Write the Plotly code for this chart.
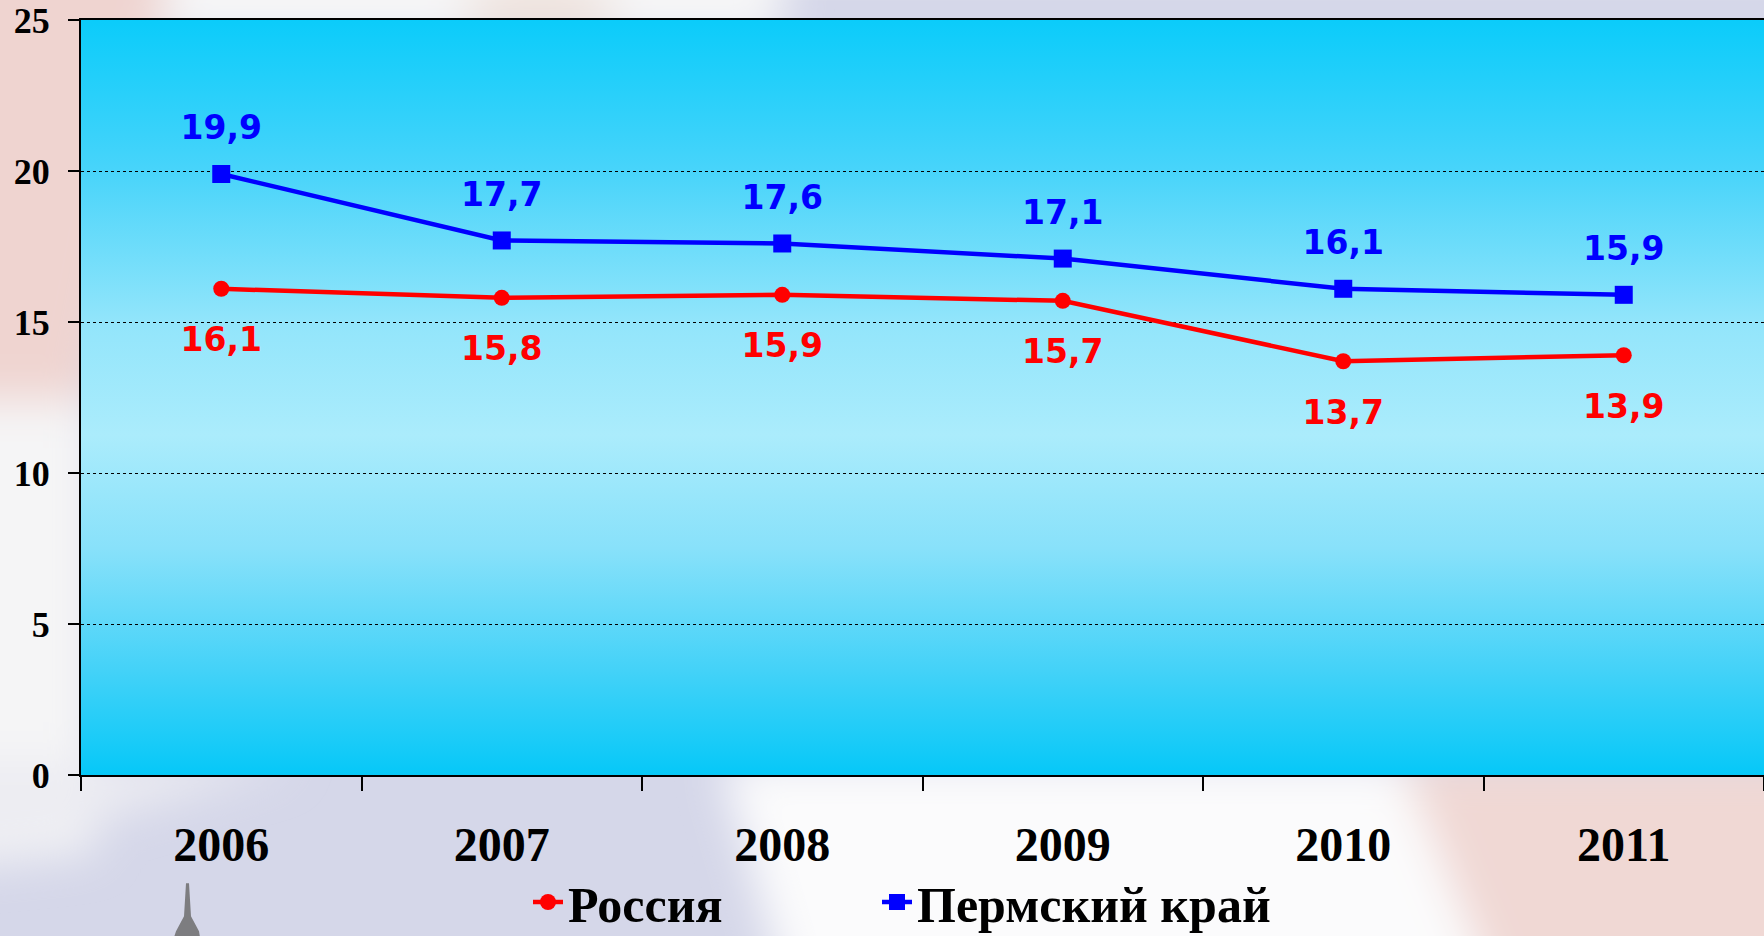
import base64

import plotly.graph_objects as go

years = ["2006", "2007", "2008", "2009", "2010", "2011"]
russia = [16.1, 15.8, 15.9, 15.7, 13.7, 13.9]
perm = [19.9, 17.7, 17.6, 17.1, 16.1, 15.9]
y_ticks = [0, 5, 10, 15, 20, 25]

# снимок окна слегка сжимает высоту, поэтому вертикальные размеры растянуты на SY
SY = 941 / 936
W, H = 1764, 941
ML, MR, MT, MB = 81, 0, round(20 * SY), H - round(774 * SY)
PW, PH = W - ML - MR, H - MT - MB

RED = "#ff0000"
BLUE = "#0000ff"


def svg_uri(svg: str) -> str:
    return "data:image/svg+xml;base64," + base64.b64encode(svg.encode("utf-8")).decode("ascii")


def fmt(v):
    return f"{v:.1f}".replace(".", ",")


def sy(v):
    return round(v * SY)


# фон слайда (размытый флаг) и башня внизу слева
page_svg = f"""<svg xmlns="http://www.w3.org/2000/svg" width="{W}" height="{H}" viewBox="0 0 {W} 936" preserveAspectRatio="none">
<defs><filter id="b" x="-20%" y="-20%" width="140%" height="140%"><feGaussianBlur stdDeviation="22"/></filter></defs>
<rect width="{W}" height="936" fill="#d5d7e9"/>
<g filter="url(#b)">
<polygon points="-200,-200 190,-200 160,30 90,400 -200,400" fill="#efd4d0"/>
<polygon points="190,-200 800,-200 780,40 160,40" fill="#f6f6f7"/>
<ellipse cx="540" cy="10" rx="80" ry="30" fill="#efe2dc"/>
<polygon points="-200,400 95,400 95,850 -200,880" fill="#f5f5f6"/>
<polygon points="-200,760 300,760 60,830 -200,860" fill="#ececf2"/>
<polygon points="720,760 1400,760 1500,1000 790,1000" fill="#fbfbfc"/>
<polygon points="1400,760 2000,760 2000,1000 1500,1000" fill="#f0d8d4"/>
</g>
<polygon points="186,882 189,882 191,915 199,930 200,936 174,936 176,930 184,915" fill="#7d7d80"/>
</svg>"""

# градиент области построения
plot_svg = """<svg xmlns="http://www.w3.org/2000/svg" width="100" height="100" viewBox="0 0 100 100" preserveAspectRatio="none">
<defs><linearGradient id="g" x1="0" y1="0" x2="0" y2="1">
<stop offset="0" stop-color="#0bccfa"/>
<stop offset="0.2" stop-color="#48d4fa"/>
<stop offset="0.4" stop-color="#92e5fb"/>
<stop offset="0.55" stop-color="#abecfc"/>
<stop offset="0.7" stop-color="#88e1fa"/>
<stop offset="0.86" stop-color="#44d2f8"/>
<stop offset="1" stop-color="#06c8f8"/>
</linearGradient></defs>
<rect width="100" height="100" fill="url(#g)"/>
</svg>"""

fig = go.Figure()

fig.add_trace(go.Scatter(
    x=years, y=russia, mode="lines+markers", name="Россия", legend="legend",
    line=dict(color=RED, width=4.5),
    marker=dict(symbol="circle", size=16, color=RED),
))
fig.add_trace(go.Scatter(
    x=years, y=perm, mode="lines+markers", name="Пермский край", legend="legend2",
    line=dict(color=BLUE, width=4.5),
    marker=dict(symbol="square", size=18, color=BLUE),
))

# подписи значений: невидимые крупные маркеры задают отступ текста от точки
label_font = dict(family="DejaVu Sans", size=33, weight="bold")
fig.add_trace(go.Scatter(
    x=years, y=perm, mode="markers+text", text=[fmt(v) for v in perm],
    textposition="top center", textfont=dict(label_font, color=BLUE),
    marker=dict(size=41, opacity=0), showlegend=False, hoverinfo="skip",
))
fig.add_trace(go.Scatter(
    x=years, y=russia, mode="markers+text", text=[fmt(v) for v in russia],
    textposition="bottom center", textfont=dict(label_font, color=RED),
    marker=dict(size=59, opacity=0), showlegend=False, hoverinfo="skip",
))

fig.add_layout_image(dict(
    source=svg_uri(page_svg), xref="paper", yref="paper",
    x=-ML / PW, y=1 + MT / PH, sizex=W / PW, sizey=H / PH,
    sizing="stretch", layer="below", xanchor="left", yanchor="top",
))
fig.add_layout_image(dict(
    source=svg_uri(plot_svg), xref="paper", yref="paper",
    x=0, y=1, sizex=1, sizey=1,
    sizing="stretch", layer="below", xanchor="left", yanchor="top",
))

serif_bold = dict(family="Liberation Serif", weight="bold", color="black")
legend_y = -(sy(901) - MT - PH) / PH
legend_common = dict(
    orientation="h", xanchor="left", y=legend_y, yanchor="middle",
    font=dict(serif_bold, size=50), bgcolor="rgba(0,0,0,0)",
)

fig.update_layout(
    width=W, height=H,
    margin=dict(l=ML, r=MR, t=MT, b=MB),
    paper_bgcolor="#dcdcea",
    plot_bgcolor="rgba(0,0,0,0)",
    showlegend=True,
    legend=dict(legend_common, x=(528 - ML) / PW),
    legend2=dict(legend_common, x=(877 - ML) / PW),
    xaxis=dict(
        type="category", range=[-0.5, 5.5],
        tickson="boundaries", ticks="outside", ticklen=14, tickwidth=1.5, tickcolor="black",
        showline=True, linecolor="black", linewidth=2, mirror=True,
        showgrid=False, zeroline=False,
        tickfont=dict(serif_bold, size=48), ticklabelstandoff=26,
    ),
    yaxis=dict(
        range=[0, 25], tickvals=y_ticks,
        ticks="outside", ticklen=11, tickwidth=1.5, tickcolor="black",
        showline=True, linecolor="black", linewidth=2,
        showgrid=True, gridcolor="black", gridwidth=1, griddash="3px,3px",
        zeroline=False,
        tickfont=dict(serif_bold, size=36), ticklabelstandoff=11,
    ),
)

# график закреплён в левом верхнем углу окна, без полей страницы
pin = ("var d=document.getElementById('{plot_id}');"
       "d.style.position='fixed';d.style.left='0';d.style.top='0';"
       "document.body.style.margin='0';document.body.style.overflow='hidden';"
       "document.documentElement.style.overflow='hidden';")
fig.write_html("out.html", config={"displayModeBar": False}, post_script=pin)
